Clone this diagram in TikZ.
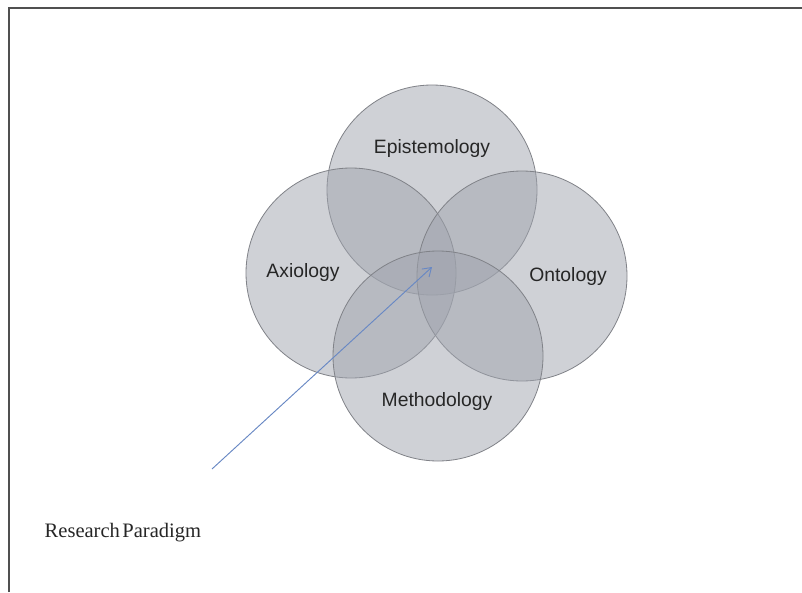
\documentclass[tikz,border=0pt]{standalone}
\usepackage{fontspec}
\setmainfont{Liberation Serif}
\newfontfamily\labelfont{Liberation Sans}
\usetikzlibrary{arrows.meta}
\definecolor{ringfill}{RGB}{160,164,174}
\definecolor{ringline}{RGB}{128,130,136}
\definecolor{framegray}{RGB}{80,80,80}
\definecolor{arrowblue}{RGB}{104,136,196}
\tikzset{
  ring/.style={circle, draw=ringline, line width=0.6pt, fill=ringfill,
    fill opacity=0.5, minimum size=157.5pt, inner sep=0pt},
  ringlabel/.style={font=\labelfont\fontsize{14.5}{17}\selectfont, text=black!85},
  captionlabel/.style={font=\fontsize{15.4}{18}\selectfont, text=black!85},
  pointer/.style={draw=arrowblue, line width=0.7pt, -{Straight Barb[length=6pt,width=8pt]}},
}
\begin{document}
\begin{tikzpicture}[x=0.75pt,y=-0.75pt]
  \useasboundingbox (0,0) rectangle (802,592);
  \fill[white] (0,0) rectangle (802,592);
  % frame on the top and left
  \draw[framegray, line width=1.3pt] (9,592) -- (9,8) -- (802,8);

  % the four overlapping circles
  \node[ring] (epi) at (432,190) {};
  \node[ring] (axi) at (351,273) {};
  \node[ring] (ont) at (522,276) {};
  \node[ring] (met) at (438,356) {};

  % circle labels
  \node[ringlabel] (epilabel) at (432,148) {Epistemology};
  \node[ringlabel] (axilabel) at (303,272) {Axiology};
  \node[ringlabel] (ontlabel) at (568,276) {Ontology};
  \node[ringlabel] (metlabel) at (437,401) {Methodology};

  % caption and the pointer into the shared centre
  \node[captionlabel, anchor=west] (paradigm) at (40,533) {Research\hspace{0.12em}Paradigm};
  \coordinate (tail) at (212,469);
  \coordinate (core) at (432,267);
  \draw[pointer] (tail) -- (core);
\end{tikzpicture}
\end{document}
